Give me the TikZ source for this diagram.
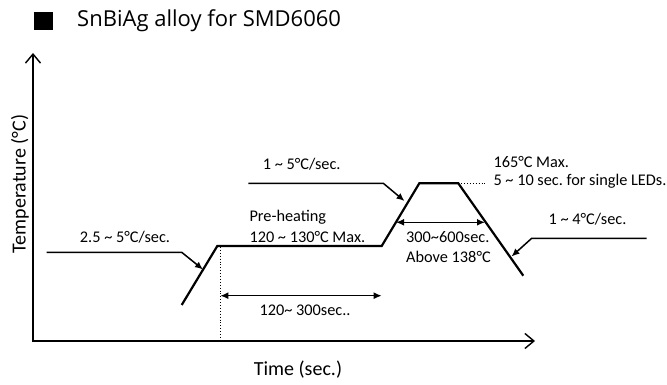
\documentclass[tikz,border=0pt]{standalone}
\usepackage{fontspec}
\setmainfont{Carlito}
\newfontfamily\titlefont{Open Sans}
\usetikzlibrary{arrows.meta}
\frenchspacing
\begin{document}
\begin{tikzpicture}[x=1pt,y=-1pt,
  axis/.style={line width=1.8pt,-{Straight Barb[length=9pt,width=15pt,line width=1.4pt]}},
  profile/.style={line width=2.2pt,line join=miter},
  pointer/.style={line width=1.5pt,-{Latex[length=8pt,width=7pt]}},
  span/.style={line width=1.5pt,{Latex[length=8pt,width=7pt]}-{Latex[length=8pt,width=7pt]}},
  dotline/.style={line width=0.9pt,dotted},
  lbl/.style={inner sep=0pt,font=\fontsize{16.3}{19.5}\selectfont},
  big/.style={inner sep=0pt,font=\fontsize{20}{24}\selectfont}]
\useasboundingbox (0,0) rectangle (667,385);
% title
\node[fill=black,minimum width=19pt,minimum height=18pt,inner sep=0pt] (sq) at (43,21) {};
\node[inner sep=0pt,anchor=west,font=\titlefont\fontsize{22}{26}\selectfont] (title) at (77,21) {SnBiAg alloy for SMD6060};
% axes
\coordinate (O) at (33,341);
\coordinate (ytop) at (33,53);
\coordinate (xend) at (535,341);
\draw[axis] (33,342) -- (ytop);
\draw[axis] (O) -- (xend);
\node[big,rotate=90] (ylab) at (20,184) {Temperature (°C)};
\node[big] (xlab) at (298,370) {Time (sec.)};
% profile
\coordinate (p0) at (181.7,305);
\coordinate (p1) at (217.3,246);
\coordinate (p2) at (381.7,246);
\coordinate (p3) at (419.3,183.3);
\coordinate (p4) at (458.3,183.3);
\coordinate (p5) at (523.3,275.7);
\draw[profile] (p0) -- (p1) -- (p2) -- (p3) -- (p4) -- (p5);
% dotted guides
\coordinate (d0) at (220.3,247);
\coordinate (d1) at (220.3,341);
\draw[dotline] (d0) -- (d1);
\coordinate (e1) at (486.7,183.3);
\draw[dotline] (p4) -- (e1);
% pointers
\coordinate (a0) at (46.7,252.3);
\coordinate (a1) at (181.7,252.3);
\coordinate (a2) at (203,269.5);
\draw[pointer] (a0) -- (a1) -- (a2);
\coordinate (b0) at (248.3,183.3);
\coordinate (b1) at (383.3,183.3);
\coordinate (b2) at (404.5,201);
\draw[pointer] (b0) -- (b1) -- (b2);
\coordinate (c0) at (646.7,238.3);
\coordinate (c1) at (531.7,238.3);
\coordinate (c2) at (511.5,256.5);
\draw[pointer] (c0) -- (c1) -- (c2);
% spans
\coordinate (s0) at (220.3,295.7);
\coordinate (s1) at (381.7,295.7);
\draw[span] (s0) -- (s1);
\coordinate (t0) at (396,222.3);
\coordinate (t1) at (485,222.3);
\draw[span] (t0) -- (t1);
% labels
\node[lbl] (l1) at (125,237.3) {2.5 \char"007E{} 5°C/sec.};
\node[lbl] (l2) at (301.7,164) {1 \char"007E{} 5°C/sec.};
\node[lbl,anchor=west] (l3) at (249.3,217.3) {Pre-heating};
\node[lbl,anchor=west] (l4) at (249.3,236.7) {120 \char"007E{} 130°C Max.};
\node[lbl] (l5) at (305,310.7) {120\char"007E{} 300sec..};
\node[lbl,anchor=west] (l6) at (406,237.3) {300\char"007E{}600sec.};
\node[lbl,anchor=west] (l7) at (406,256.7) {Above 138°C};
\node[lbl,anchor=west] (l8) at (493.3,161.7) {165°C Max.};
\node[lbl,anchor=west] (l9) at (493.3,181.7) {5 \char"007E{} 10 sec. for single LEDs.};
\node[lbl] (l10) at (587.5,219.3) {1 \char"007E{} 4°C/sec.};
\end{tikzpicture}
\end{document}
